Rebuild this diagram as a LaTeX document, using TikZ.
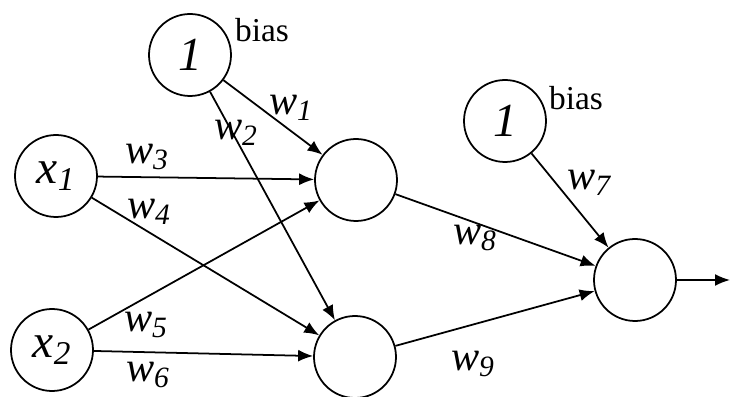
\documentclass[tikz,border=0pt]{standalone}
\usepackage{fontspec}
\setmainfont{Liberation Serif}
\usetikzlibrary{arrows.meta}

\tikzset{
    neuron/.style={draw, circle, line width=1pt, minimum size=1.64cm,
        inner sep=0pt, font=\fontsize{27}{29}\selectfont\itshape},
    wlab/.style={font=\fontsize{24}{26}\selectfont\itshape, inner sep=0pt},
    biaslab/.style={font=\fontsize{19}{21}\selectfont, inner sep=0pt},
    conn/.style={-{Latex[length=3mm,width=2.4mm]}, line width=1pt}
}

\begin{document}
\begin{tikzpicture}

    \useasboundingbox (0,0) rectangle (14.6,7.94);

    % Input layer
    \node[neuron] (bias1) at (3.8,6.84) {1};
    \node[neuron] (x1) at (1.12,4.42) {x\textsubscript{1}};
    \node[neuron] (x2) at (1.04,0.94) {x\textsubscript{2}};

    % Hidden layer
    \node[neuron] (hid1) at (7.12,4.34) {};
    \node[neuron] (hid2) at (7.1,0.8) {};

    % Output layer
    \node[neuron] (bias2) at (10.1,5.52) {1};
    \node[neuron] (out) at (12.7,2.34) {};
    \coordinate (yout) at (14.6,2.34);

    \node[biaslab] (lbias1) at (5.24,7.34) {bias};
    \node[biaslab] (lbias2) at (11.52,5.98) {bias};

    % Arrows
    \draw[conn] (bias1) -- (hid1);
    \draw[conn] (bias1) -- (hid2);
    \draw[conn] (x1) -- (hid1);
    \draw[conn] (x1) -- (hid2);
    \draw[conn] (x2) -- (hid1);
    \draw[conn] (x2) -- (hid2);
    \draw[conn] (bias2) -- (out);
    \draw[conn] (hid1) -- (out);
    \draw[conn] (hid2) -- (out);
    \draw[conn] (out) -- (yout);

    % Weights
    \node[wlab] (lw1) at (5.82,5.78) {w\textsubscript{1}};
    \node[wlab] (lw2) at (4.72,5.28) {w\textsubscript{2}};
    \node[wlab] (lw3) at (2.94,4.8) {w\textsubscript{3}};
    \node[wlab] (lw4) at (2.98,3.7) {w\textsubscript{4}};
    \node[wlab] (lw5) at (2.92,1.44) {w\textsubscript{5}};
    \node[wlab] (lw6) at (2.96,0.44) {w\textsubscript{6}};
    \node[wlab] (lw7) at (11.78,4.28) {w\textsubscript{7}};
    \node[wlab] (lw8) at (9.5,3.18) {w\textsubscript{8}};
    \node[wlab] (lw9) at (9.46,0.66) {w\textsubscript{9}};

\end{tikzpicture}
\end{document}
